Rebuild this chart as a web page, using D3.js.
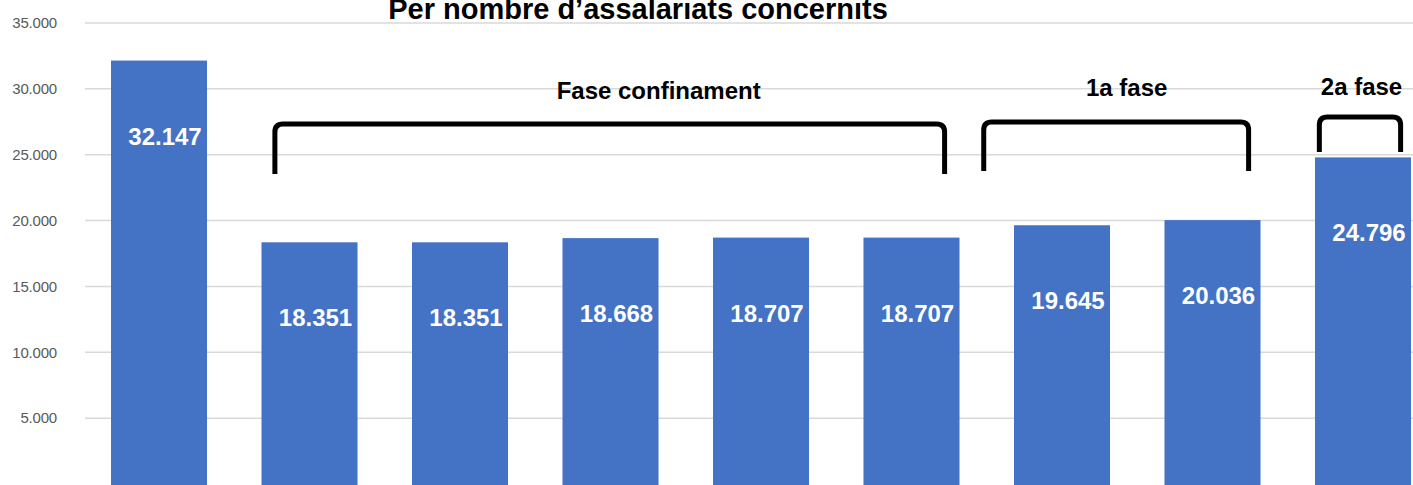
<!DOCTYPE html>
<html><head><meta charset="utf-8">
<script src="https://cdn.jsdelivr.net/npm/d3@7"></script>
<style>html,body{margin:0;padding:0;background:#fff;overflow:hidden}</style>
</head><body>
<svg id="chart" width="1413" height="485"></svg>
<script>
// ---- data ----
const categories = ["1","2","3","4","5","6","7","8","9"];
const values = [32147, 18351, 18351, 18668, 18707, 18707, 19645, 20036, 24796];
const yTicks = [5000, 10000, 15000, 20000, 25000, 30000, 35000];
const groupLabels = ["Fase confinament", "1a fase", "2a fase"];
const groupFrom = [0.77, 5.48, 7.71];   // category-index units
const groupTo = [5.22, 7.24, 8.25];
const groupLabelAt = [3.32, 6.43, 7.99];
const title = "Per nombre d\u2019assalariats concernits";

const svg = d3.select("#chart");
const W = 1413, H = 485;

const x = d3.scaleBand().domain(categories).range([111, 1411]).paddingInner(0.362).paddingOuter(0);
const y = d3.scaleLinear().domain([0, 35000]).range([484, 23]);
const idx = d3.scaleLinear().domain([0, categories.length - 1])
  .range([x(categories[0]) + x.bandwidth()/2, x(categories[categories.length-1]) + x.bandwidth()/2]);

const fmt = v => d3.format(",")(v).replace(/,/g, ".");

// gridlines
svg.append("g").selectAll("line").data(yTicks).join("line")
  .attr("x1", 85).attr("x2", W).attr("y1", d => y(d)).attr("y2", d => y(d))
  .attr("stroke", "#d9d9d9").attr("stroke-width", 1.5);

// y axis
const yAxis = d3.axisLeft(y).tickValues(yTicks).tickFormat(fmt).tickSize(0).tickPadding(0);
const ga = svg.append("g").attr("transform", "translate(57,0)").call(yAxis);
ga.select(".domain").remove();
ga.selectAll("text").attr("font-family", "Liberation Sans, Arial, sans-serif")
  .attr("font-size", 15).attr("fill", "#595959").attr("letter-spacing", "-0.2");

// bars
svg.append("g").selectAll("rect").data(values).join("rect")
  .attr("x", (d,i) => x(categories[i])).attr("width", x.bandwidth())
  .attr("y", d => y(d)).attr("height", d => y(0) - y(d) + 2)
  .attr("fill", "#4472C4");

// bar labels
svg.append("g").selectAll("text").data(values).join("text")
  .attr("x", (d,i) => x(categories[i]) + x.bandwidth()/2 + 6)
  .attr("y", d => y(d) + 84)
  .attr("text-anchor", "middle")
  .attr("font-family", "Liberation Sans, Arial, sans-serif").attr("font-weight", "bold")
  .attr("font-size", 24).attr("fill", "#fff")
  .text(fmt);

// title
svg.append("text").attr("x", 638).attr("y", 19).attr("text-anchor", "middle")
  .attr("font-family", "Liberation Sans, Arial, sans-serif").attr("font-weight", "bold")
  .attr("font-size", 29).attr("fill", "#000").text(title);

// brackets
const bracketTop = [124, 122, 117];
const bracketBottom = [174, 171, 152];
const labelY = [99, 96, 95];
groupLabels.forEach((lab, i) => {
  const x0 = idx(groupFrom[i]), x1 = idx(groupTo[i]);
  const t = bracketTop[i], b = bracketBottom[i], r = 8;
  const p = d3.path();
  p.moveTo(x0, b);
  p.lineTo(x0, t + r);
  p.quadraticCurveTo(x0, t, x0 + r, t);
  p.lineTo(x1 - r, t);
  p.quadraticCurveTo(x1, t, x1, t + r);
  p.lineTo(x1, b);
  svg.append("path").attr("d", p.toString()).attr("fill", "none")
    .attr("stroke", "#000").attr("stroke-width", 5);
  svg.append("text").attr("x", idx(groupLabelAt[i])).attr("y", labelY[i]).attr("text-anchor", "middle")
    .attr("font-family", "Liberation Sans, Arial, sans-serif").attr("font-weight", "bold")
    .attr("font-size", 24).attr("fill", "#000").text(lab);
});
</script>
</body></html>
